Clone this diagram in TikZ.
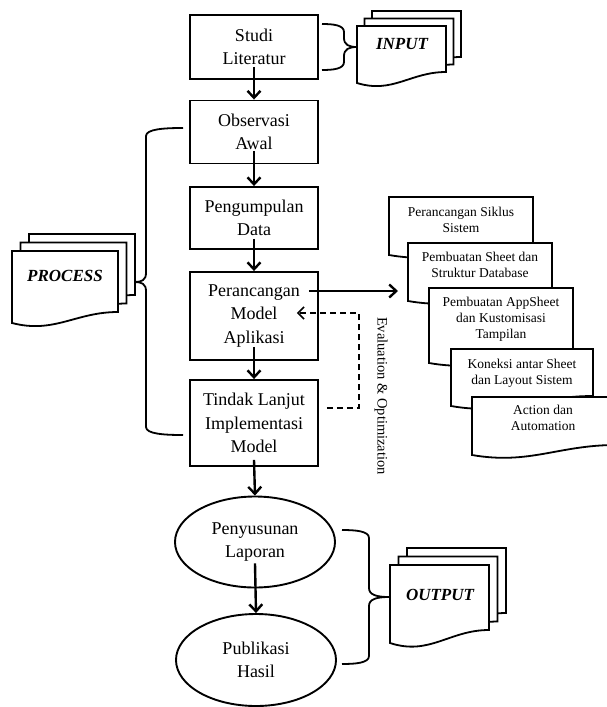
\documentclass[tikz,border=0pt]{standalone}
\usepackage{fontspec}
\setmainfont{Liberation Serif}
\usetikzlibrary{shapes.geometric}
\usetikzlibrary{arrows.meta}
\tikzset{
    stepbox/.style = {draw=black, line width=1.9pt, minimum width=128pt, align=center, inner sep=0pt, font=\fontsize{18}{23.5}\selectfont},
    stepell/.style = {ellipse, draw=black, line width=1.9pt, minimum width=160pt, minimum height=91pt, align=center, inner sep=0pt, font=\fontsize{18}{23.5}\selectfont},
    doctext/.style = {anchor=north, align=center, inner sep=0pt, font=\fontsize{13.5}{16}\selectfont},
    tagtext/.style = {inner sep=0pt, font=\fontsize{17}{20}\selectfont\bfseries\itshape},
    docn/.style = {draw=black, line width=1.8pt, fill=white},
    bracen/.style = {draw=black, line width=1.8pt},
    edgen/.style = {line width=2.4pt, -{Straight Barb[length=7pt,width=13pt]}},
    edgegd/.style = {line width=1.5pt, dash pattern=on 6pt off 4pt, -{Straight Barb[length=6pt,width=12pt]}}
}
% left, top, width, height, dip
\newcommand{\docpage}[5]{%
  \draw[docn] (#1,#2) -- ({#1+#3},#2) -- ({#1+#3},{#2+#4-#5})
    .. controls ({#1+0.6*#3},{#2+#4-#5}) and ({#1+0.4*#3},{#2+#4+#5}) .. (#1,{#2+#4}) -- cycle;}
% left, top, width, height, dip, shift
\newcommand{\docstack}[6]{%
  \docpage{#1+2*#6}{#2-2*#6}{#3}{#4}{#5}
  \docpage{#1+#6}{#2-#6}{#3}{#4}{#5}
  \docpage{#1}{#2}{#3}{#4}{#5}}
% arm x, spine x, tip x, top y, tip y, bottom y
\newcommand{\bracepath}[6]{%
  \draw[bracen] (#1,#4) .. controls ({#2+0.5*(#1-#2)},#4) and (#2,{#4+1}) .. (#2,{#4+8})
    -- (#2,{#5-9}) .. controls (#2,{#5-2}) and ({#2+0.4*(#3-#2)},#5) .. (#3,#5)
    .. controls ({#2+0.4*(#3-#2)},#5) and (#2,{#5+2}) .. (#2,{#5+9})
    -- (#2,{#6-8}) .. controls (#2,{#6-1}) and ({#2+0.5*(#1-#2)},#6) .. (#1,#6);}

\begin{document}
\begin{tikzpicture}[x=1pt, y=-1pt]
  \useasboundingbox (0,0) rectangle (607,707);
  \clip (0,0) rectangle (607,707);

  % main flow
  \node[stepbox, minimum height=64pt] (studi) at (254,47) {Studi\\Literatur};
  \node[stepbox, minimum height=63pt] (observasi) at (254,132) {Observasi\\Awal};
  \node[stepbox, minimum height=62pt] (pengumpulan) at (254,218) {Pengumpulan\\Data};
  \node[stepbox, minimum height=88pt] (perancangan) at (254,316) {Perancangan\\Model\\Aplikasi};
  \node[stepbox, minimum height=86pt] (tindak) at (254,423) {Tindak Lanjut\\Implementasi\\Model};
  \node[stepell] (penyusunan) at (255,542) {Penyusunan\\Laporan};
  \node[stepell, minimum height=92pt] (publikasi) at (256,660) {Publikasi\\Hasil};

  \draw[edgen] ([yshift=13pt]studi.south) -- (observasi.north);
  \draw[edgen] ([yshift=13pt]observasi.south) -- (pengumpulan.north);
  \draw[edgen] ([yshift=11pt]pengumpulan.south) -- (perancangan.north);
  \draw[edgen] ([yshift=14pt]perancangan.south) -- (tindak.north);
  \draw[edgen] ([yshift=7pt]tindak.south) -- (penyusunan.north);
  \draw[edgen] ([yshift=25pt]penyusunan.south) -- (publikasi.north);

  % input / process / output
  \docstack{357}{26}{89}{57}{11}{7.5}
  \node[tagtext] (inputtag) at (402,44) {INPUT};
  \bracepath{322}{344}{357}{24}{47}{70}

  \docstack{12}{251}{106}{72}{11}{8.5}
  \node[tagtext] (processtag) at (65,276) {PROCESS};
  \bracepath{183}{146}{135}{128}{282}{435}

  \docstack{390}{565}{99}{78}{13}{8.5}
  \node[tagtext] (outputtag) at (440,595) {OUTPUT};
  \bracepath{342}{369}{389}{530}{597}{664}

  % model steps
  \docpage{389}{197}{144}{58}{10}
  \node[doctext] (siklus) at (461,207) {Perancangan Siklus\\Sistem};
  \docpage{408}{243}{144}{58}{10}
  \node[doctext] (sheet) at (480,252) {Pembuatan Sheet dan\\Struktur Database};
  \docpage{429}{288}{144}{75}{10}
  \node[doctext] (appsheet) at (501,297) {Pembuatan AppSheet\\dan Kustomisasi\\Tampilan};
  \docpage{451}{349}{142}{57}{10}
  \node[doctext] (koneksi) at (522,359) {Koneksi antar Sheet\\dan Layout Sistem};
  \docpage{472}{397}{144}{58}{10}
  \node[doctext] (action) at (543,405) {Action dan\\Automation};

  \coordinate (modelout) at (398,291);
  \draw[edgen] ([shift={(-10pt,25pt)}]perancangan.east) -- (modelout);

  \draw[edgegd] ([shift={(8pt,15pt)}]tindak.east) -- ++(32,0) |- ([shift={(-22pt,3pt)}]perancangan.east);
  \node[rotate=-90, inner sep=0pt, font=\fontsize{14.5}{16}\selectfont] (evallabel) at (381,396) {Evaluation \& Optimization};
\end{tikzpicture}
\end{document}
